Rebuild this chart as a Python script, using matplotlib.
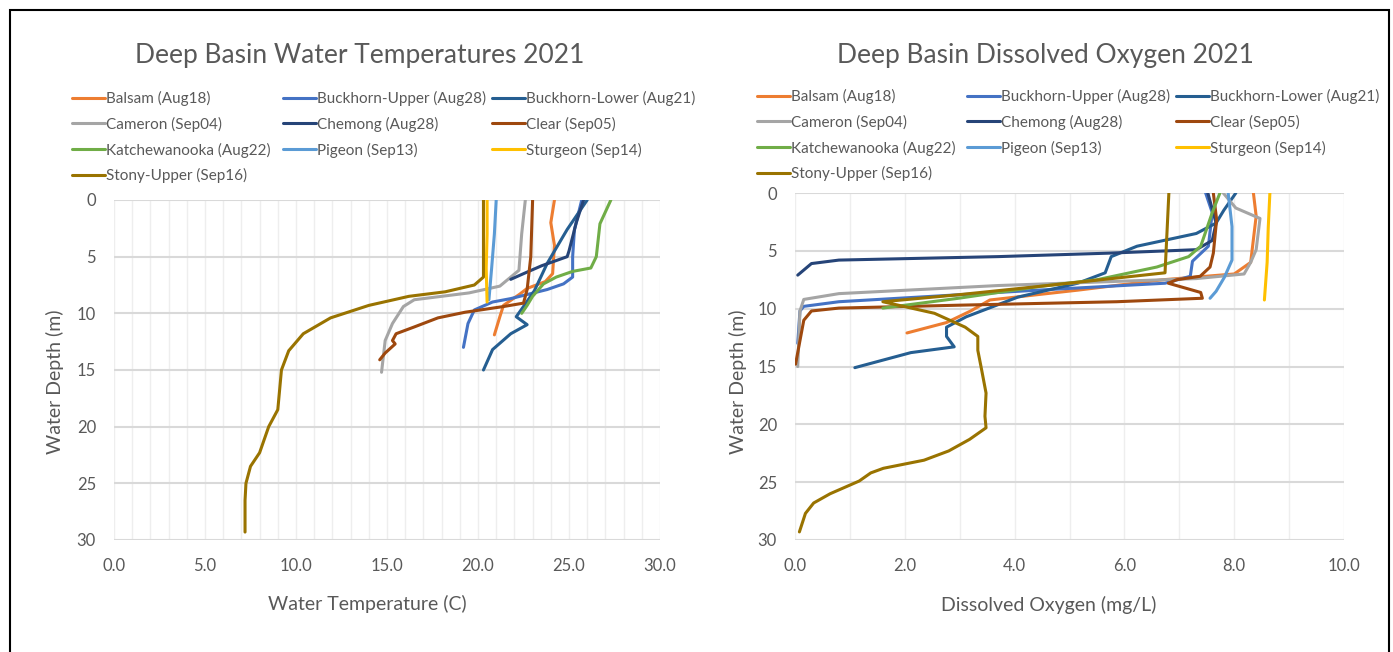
import matplotlib
matplotlib.use("Agg")
import matplotlib.pyplot as plt
from matplotlib.ticker import MultipleLocator, FormatStrFormatter
from matplotlib.patches import Rectangle

plt.rcParams['font.family'] = ['Lato', 'DejaVu Sans']

names = ["Balsam (Aug18)", "Buckhorn-Upper (Aug28)", "Buckhorn-Lower (Aug21)",
         "Cameron (Sep04)", "Chemong (Aug28)", "Clear (Sep05)",
         "Katchewanooka (Aug22)", "Pigeon (Sep13)", "Sturgeon (Sep14)",
         "Stony-Upper (Sep16)"]
colors = ["#ED7D31", "#4472C4", "#255E91", "#A5A5A5", "#264478",
          "#9E480E", "#70AD47", "#5B9BD5", "#FFC000", "#997300"]

# ---- water temperature profiles (depth m, temp C)
balsam_t_d = [0, 2, 4, 6.5, 7.2, 7.8, 8.3, 9.3, 10.3, 11.9]
balsam_t = [24.2, 24.0, 24.2, 24.1, 23.7, 22.7, 22.3, 21.4, 21.2, 20.9]
bhup_t_d = [0, 2.6, 5, 6.8, 7.4, 7.9, 8.7, 9.0, 9.7, 10.9, 13]
bhup_t = [25.7, 25.3, 25.2, 25.2, 24.7, 23.8, 21.8, 20.8, 19.8, 19.45, 19.2]
bhlow_t_d = [0, 2.6, 5.6, 8.0, 9.4, 10.3, 11.0, 11.8, 13.2, 15]
bhlow_t = [26.0, 24.9, 23.8, 23.1, 22.5, 22.1, 22.7, 21.8, 20.8, 20.3]
cameron_t_d = [0, 3, 6.2, 7.6, 8.2, 8.8, 9.4, 10.9, 12.4, 13.8, 15.2]
cameron_t = [22.6, 22.4, 22.25, 21.2, 19.5, 16.5, 15.9, 15.3, 14.9, 14.8, 14.7]
chemong_t_d = [0, 2, 4.5, 5.0, 5.8, 6.5, 7.0]
chemong_t = [25.8, 25.4, 25.0, 24.9, 23.5, 22.5, 21.8]
clear_t_d = [0, 5, 7.9, 9.1, 9.4, 9.9, 10.4, 11.2, 11.8, 12.4, 12.7, 13.5, 14.1]
clear_t = [23.0, 22.9, 22.7, 22.5, 21.4, 19.3, 17.8, 16.5, 15.5, 15.3, 15.45, 14.9, 14.6]
katch_t_d = [0, 2.1, 5, 6, 6.3, 6.8, 7.4, 8.5, 9.3, 10]
katch_t = [27.3, 26.7, 26.5, 26.2, 25.2, 24.3, 23.6, 23.0, 22.7, 22.4]
pigeon_t_d = [0, 3, 6, 8.8]
pigeon_t = [21.0, 20.9, 20.75, 20.6]
sturgeon_t_d = [0, 3, 6, 9]
sturgeon_t = [20.5, 20.5, 20.45, 20.5]
stony_t_d = [0, 3, 6.8, 7.5, 8.1, 8.5, 9.3, 10.4, 11.8, 13.3, 15, 18.5, 20, 22.3,
             23.5, 25, 26.5, 29.3]
stony_t = [20.3, 20.3, 20.3, 19.8, 18.2, 16.2, 14.0, 11.9, 10.4, 9.6, 9.2, 9.0, 8.5,
           8.0, 7.5, 7.25, 7.2, 7.2]

# ---- dissolved oxygen profiles (depth m, DO mg/L)
balsam_o_d = [0, 2, 4, 6, 7.0, 7.5, 8.4, 9.25, 10.2, 11.2, 12.1]
balsam_o = [8.35, 8.4, 8.35, 8.3, 8.0, 6.7, 5.15, 3.55, 3.2, 2.76, 2.04]
bhup_o_d = [0, 1.7, 4.6, 5.9, 7.2, 7.8, 8.4, 9.0, 9.4, 9.8, 10.2, 13]
bhup_o = [7.48, 7.6, 7.53, 7.24, 7.2, 6.74, 4.42, 2.25, 0.8, 0.16, 0.09, 0.05]
bhlow_o_d = [0, 1.5, 2.6, 3.5, 4.6, 5.5, 6.9, 7.8, 9.0, 10.7, 11.6, 12.4, 13.3,
             13.8, 15.1]
bhlow_o = [8.03, 7.81, 7.67, 7.31, 6.23, 5.76, 5.65, 5.15, 4.06, 3.12, 2.76, 2.76,
           2.90, 2.11, 1.09]
cameron_o_d = [0, 1.3, 2.2, 4.9, 6.0, 7.0, 7.4, 8.0, 8.7, 9.2, 10.2, 15]
cameron_o = [7.8, 8.03, 8.47, 8.4, 8.3, 8.18, 7.31, 3.7, 0.8, 0.16, 0.09, 0.05]
chemong_o_d = [0, 2.6, 4.1, 4.9, 5.2, 5.5, 5.8, 6.1, 7.1]
chemong_o = [7.52, 7.67, 7.6, 7.31, 5.72, 3.7, 0.8, 0.3, 0.05]
clear_o_d = [0, 2.3, 5.2, 6.4, 7.2, 7.5, 7.8, 8.6, 9.1, 9.4, 9.7, 9.95, 10.2, 11, 14.8]
clear_o = [7.62, 7.68, 7.62, 7.56, 7.38, 6.95, 6.8, 7.39, 7.42, 5.86, 2.98, 0.8,
           0.30, 0.16, 0.01]
katch_o_d = [0, 1.7, 4.6, 5.5, 6.4, 7.5, 8.1, 9.1, 9.95]
katch_o = [7.74, 7.6, 7.39, 7.17, 6.59, 5.5, 4.42, 2.98, 1.6]
pigeon_o_d = [0, 2.9, 5.8, 7.3, 8.5, 9.1]
pigeon_o = [7.89, 7.96, 7.96, 7.82, 7.67, 7.56]
sturgeon_o_d = [0, 3, 6, 9.25]
sturgeon_o = [8.65, 8.62, 8.6, 8.55]
stony_o_d = [0, 3, 6.9, 8.1, 8.8, 9.4, 10.4, 11.6, 12.4, 13.6, 15.3, 17.3, 19.3, 20.3,
             21.3, 22.3, 23.1, 23.8, 24.2, 24.9, 26, 26.8, 27.7, 29.3]
stony_o = [6.81, 6.78, 6.74, 4.4, 2.97, 1.6, 2.54, 3.1, 3.33, 3.33, 3.40, 3.48, 3.46,
           3.48, 3.18, 2.80, 2.35, 1.61, 1.38, 1.17, 0.64, 0.34, 0.19, 0.08]

temp_series = [(balsam_t, balsam_t_d), (bhup_t, bhup_t_d), (bhlow_t, bhlow_t_d),
               (cameron_t, cameron_t_d), (chemong_t, chemong_t_d), (clear_t, clear_t_d),
               (katch_t, katch_t_d), (pigeon_t, pigeon_t_d), (sturgeon_t, sturgeon_t_d),
               (stony_t, stony_t_d)]
do_series = [(balsam_o, balsam_o_d), (bhup_o, bhup_o_d), (bhlow_o, bhlow_o_d),
             (cameron_o, cameron_o_d), (chemong_o, chemong_o_d), (clear_o, clear_o_d),
             (katch_o, katch_o_d), (pigeon_o, pigeon_o_d), (sturgeon_o, sturgeon_o_d),
             (stony_o, stony_o_d)]

W, H = 1393, 652
txt = "#595959"
fig = plt.figure(figsize=(W / 100, H / 100), dpi=100)


def px_axes(x0, y0, x1, y1):
    return fig.add_axes([x0 / W, (H - y1) / H, (x1 - x0) / W, (y1 - y0) / H])


ax1 = px_axes(114, 200, 660, 540)
ax2 = px_axes(795, 193, 1344, 540)


def style(ax, xmax, xstep):
    ax.set_xlim(0, xmax)
    ax.set_ylim(30, 0)
    ax.xaxis.set_major_locator(MultipleLocator(xstep))
    ax.xaxis.set_minor_locator(MultipleLocator(1))
    ax.yaxis.set_major_locator(MultipleLocator(5))
    ax.xaxis.set_major_formatter(FormatStrFormatter("%.1f"))
    for s in ax.spines.values():
        s.set_visible(False)
    ax.grid(True, which='both', axis='x', color="#EEEEEE", lw=1.0)
    ax.grid(True, which='major', axis='y', color="#D9D9D9", lw=1.5)
    ax.tick_params(which='both', length=0, labelsize=12, labelcolor=txt, pad=13)
    ax.set_axisbelow(True)


def draw(ax, series):
    lines = []
    for (vals, dep), name, c in zip(series, names, colors):
        ln, = ax.plot(vals, dep, color=c, lw=2.2, label=name, solid_capstyle='round')
        lines.append(ln)
    return lines


l1 = draw(ax1, temp_series)
l2 = draw(ax2, do_series)
style(ax1, 30, 5)
style(ax2, 10, 2)

# legend filled row by row like the source: one small legend per column
columns = [[0, 3, 6, 9], [1, 4, 7], [2, 5, 8]]
for lines, xs, ytop in [(l1, [72, 283, 492], 91), (l2, [757, 967, 1176], 89)]:
    for col, x0 in zip(columns, xs):
        fig.legend([lines[i] for i in col], [names[i] for i in col],
                   loc='upper left', bbox_to_anchor=(x0 / W, 1 - ytop / H),
                   frameon=False, fontsize=11, labelcolor=txt, handlelength=2.15,
                   handletextpad=0.1, labelspacing=0.7, borderpad=0,
                   borderaxespad=0)

fig.text(360 / W, 1 - 55 / H, "Deep Basin Water Temperatures 2021", ha='center',
         va='center', fontsize=19, color=txt)
fig.text(1045 / W, 1 - 55 / H, "Deep Basin Dissolved Oxygen 2021", ha='center',
         va='center', fontsize=19, color=txt)
fig.text(367 / W, 1 - 604 / H, "Water Temperature (C)", ha='center', va='center',
         fontsize=14, color=txt)
fig.text(1049 / W, 1 - 605 / H, "Dissolved Oxygen (mg/L)", ha='center', va='center',
         fontsize=14, color=txt)
fig.text(55 / W, 1 - 382 / H, "Water Depth (m)", ha='center', va='center',
         rotation=90, fontsize=14, color=txt)
fig.text(738 / W, 1 - 382 / H, "Water Depth (m)", ha='center', va='center',
         rotation=90, fontsize=14, color=txt)

fig.add_artist(Rectangle((10 / W, -0.02), 1379 / W, 1 - 10 / H + 0.02,
                         transform=fig.transFigure, fill=False, ec='black', lw=1.5))

fig.savefig("out.png", dpi=100)
